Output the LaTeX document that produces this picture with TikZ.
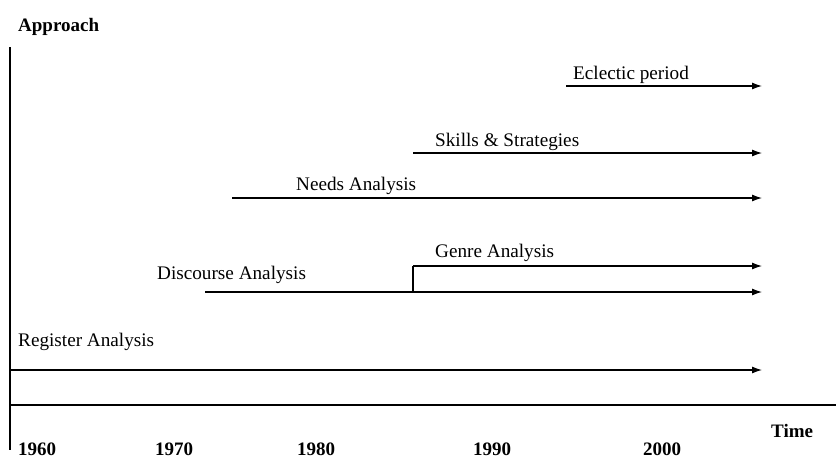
\documentclass[tikz,border=0pt]{standalone}
\usepackage{fontspec}
\setmainfont{Liberation Serif}
\usetikzlibrary{arrows.meta}
\begin{document}
\begin{tikzpicture}[x=1pt,y=-1pt,
  lbl/.style={anchor=base west,inner sep=0pt,font=\fontsize{19.2}{21}\selectfont},
  boldlbl/.style={anchor=base west,inner sep=0pt,font=\fontsize{19}{21}\selectfont\bfseries},
  axis/.style={line width=2pt},
  period/.style={line width=1.1pt,-{Latex[length=10pt,width=7pt]}}]
\useasboundingbox (0,0) rectangle (836,458);
% axes
\coordinate (ytop) at (10,47);
\coordinate (ybot) at (10,450);
\coordinate (xl) at (10,405);
\coordinate (xr) at (836,405);
\draw[axis] (ytop) -- (ybot);
\draw[axis] (xl) -- (xr);
\node[boldlbl] (approach) at (18,31) {Approach};
\node[boldlbl] (time) at (771,437) {Time};
\node[boldlbl] (y1960) at (18,455) {1960};
\node[boldlbl] (y1970) at (155,455) {1970};
\node[boldlbl] (y1980) at (297,455) {1980};
\node[boldlbl] (y1990) at (473,455) {1990};
\node[boldlbl] (y2000) at (643,455) {2000};
% periods
\coordinate (ecS) at (566,86);   \coordinate (ecE) at (762,86);
\coordinate (skS) at (413,153);  \coordinate (skE) at (762,153);
\coordinate (neS) at (232,198);  \coordinate (neE) at (762,198);
\coordinate (geS) at (413,266);  \coordinate (geE) at (762,266);
\coordinate (diS) at (205,292);  \coordinate (diE) at (762,292);
\coordinate (geB) at (413,292);
\coordinate (reS) at (10,370);   \coordinate (reE) at (762,370);
\draw[period] (ecS) -- (ecE);
\draw[period] (skS) -- (skE);
\draw[period] (neS) -- (neE);
\draw[period] (geS) -- (geE);
\draw[line width=2pt] (geB) -- (geS);
\draw[period] (diS) -- (diE);
\draw[period] (reS) -- (reE);
\node[lbl] (eclectic) at (573,79) {Eclectic period};
\node[lbl] (skills) at (435,146) {Skills \& Strategies};
\node[lbl] (needs) at (296,190) {Needs Analysis};
\node[lbl] (genre) at (435,257) {Genre Analysis};
\node[lbl] (discourse) at (157,279) {Discourse Analysis};
\node[lbl] (register) at (18,346) {Register Analysis};
\end{tikzpicture}
\end{document}
